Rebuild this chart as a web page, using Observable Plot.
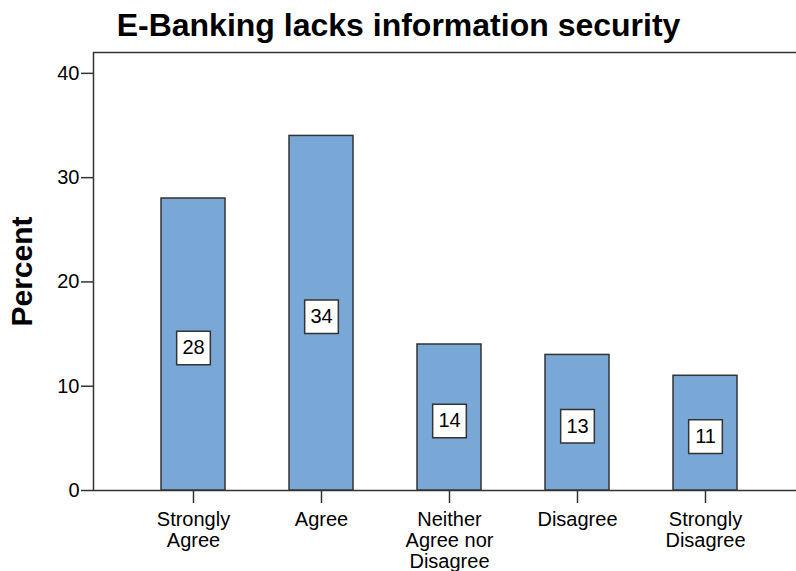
<!DOCTYPE html>
<html>
<head>
<meta charset="utf-8">
<script src="https://cdn.jsdelivr.net/npm/d3@7"></script>
<script src="https://cdn.jsdelivr.net/npm/@observablehq/plot@0.6"></script>
<style>
  html, body { margin: 0; padding: 0; background: #fff; }
  svg { display: block; }
</style>
</head>
<body>
<div id="chart"></div>
<script>
const title = "E-Banking lacks information security";
const yLabel = "Percent";
const categories = ["Strongly Agree", "Agree", "Neither Agree nor Disagree", "Disagree", "Strongly Disagree"];
const tickLabels = ["Strongly\nAgree", "Agree", "Neither\nAgree nor\nDisagree", "Disagree", "Strongly\nDisagree"];
const values = [28, 34, 14, 13, 11];
const yTicks = [0, 10, 20, 30, 40];
const yMax = 42;

const data = categories.map((c, i) => ({cat: c, value: values[i], mid: values[i] / 2}));
const font = "'Liberation Sans', Arial, sans-serif";
const lineColor = "#333";

const chart = Plot.plot({
  width: 796,
  height: 571,
  marginLeft: 93,
  marginRight: -1,
  marginTop: 52,
  marginBottom: 81,
  style: {fontFamily: font, background: "#fff", color: "#000", overflow: "hidden"},
  x: {domain: categories, paddingInner: 0.5, paddingOuter: 0.25, axis: null, range: [129, 769]},
  y: {domain: [0, yMax], axis: null},
  marks: [
    Plot.frame({stroke: lineColor, strokeWidth: 1.5}),
    Plot.barY(data, {x: "cat", y: "value", fill: "#79a7d6", stroke: lineColor, strokeWidth: 1.5}),
    Plot.dot(data, {x: "cat", y: "mid", symbol: "square", r: 19, fill: "#fff", stroke: lineColor, strokeWidth: 1.5, dy: 3.5}),
    Plot.text(data, {x: "cat", y: "mid", text: d => String(d.value), fontSize: 20, fill: "#000", dy: 3.5}),
    Plot.axisY({ticks: yTicks, tickSize: 12, tickPadding: 2, fontSize: 20, stroke: lineColor, strokeWidth: 1.5, fill: "#000", label: null}),
    Plot.axisX({tickFormat: d => tickLabels[categories.indexOf(d)], tickSize: 13, tickPadding: 8, fontSize: 20, lineHeight: 1.05, stroke: lineColor, strokeWidth: 1.5, fill: "#000", label: null}),
    Plot.text([title], {frameAnchor: "top", text: d => d, dx: -47, dy: -17, textAnchor: "middle", lineAnchor: "bottom", fontSize: 32, fontWeight: "bold", fill: "#000"}),
    Plot.text([yLabel], {frameAnchor: "left", text: d => d, rotate: -90, dx: -71.5, textAnchor: "middle", lineAnchor: "middle", fontSize: 30, fontWeight: "bold", fill: "#000"})
  ]
});
document.getElementById("chart").appendChild(chart);
</script>
</body>
</html>
